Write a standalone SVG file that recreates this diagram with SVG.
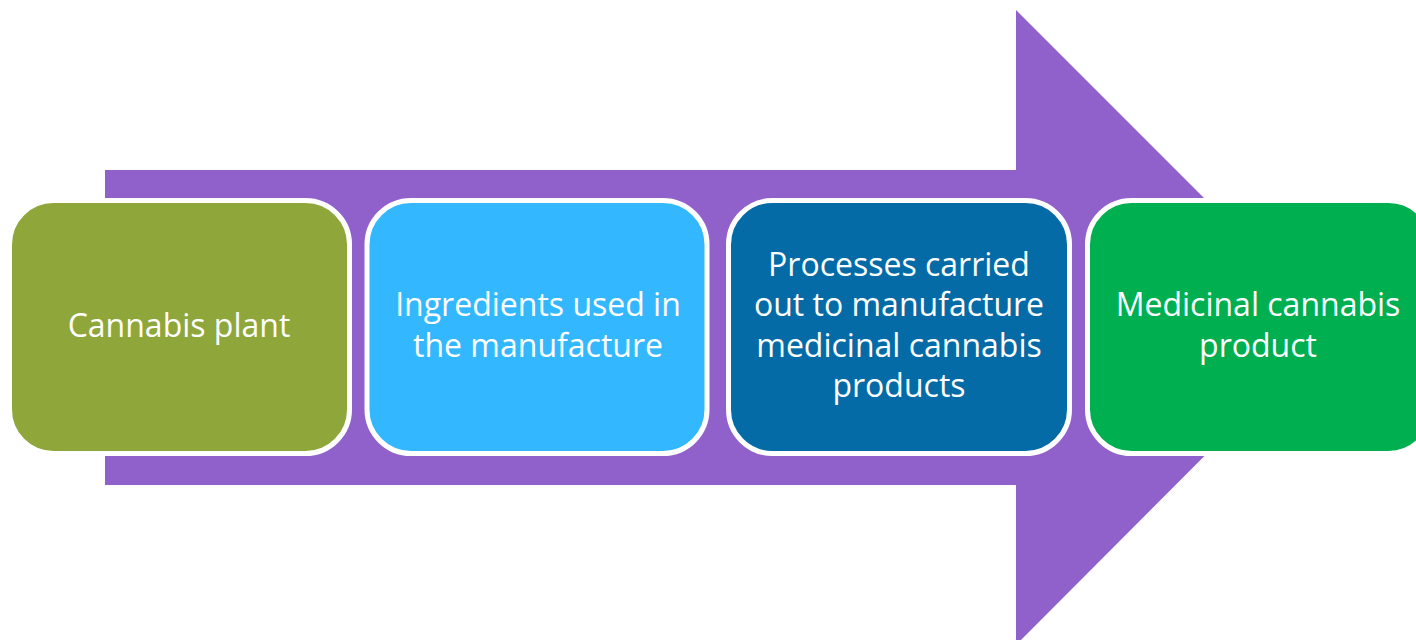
<svg xmlns="http://www.w3.org/2000/svg" width="1416" height="640" viewBox="0 0 1416 640">
<style>
.box{stroke:#fff;stroke-width:5}
.t{font-family:"Open Sans","Liberation Sans",sans-serif;font-size:32px;fill:#fff;text-anchor:middle}
</style>
<rect width="1416" height="640" fill="#fff"/>
<g id="connectors">
<polygon id="arrow" points="105,170 1016,170 1016,10 1333,327 1016,645 1016,485 105,485" fill="#9061CB"/>
</g>
<g id="n1">
<rect class="box" x="9.5" y="200.5" width="340" height="253" rx="44" fill="#8FA63B"/>
<text class="t" x="179" y="337">Cannabis plant</text>
</g>
<g id="n2">
<rect class="box" x="367" y="200.5" width="340" height="253" rx="44" fill="#33B8FF"/>
<text class="t" x="538" y="316">Ingredients used in</text>
<text class="t" x="538" y="357">the manufacture</text>
</g>
<g id="n3">
<rect class="box" x="728.5" y="200.5" width="341" height="253" rx="44" fill="#046BA7"/>
<text class="t" x="899" y="276">Processes carried</text>
<text class="t" x="899" y="316">out to manufacture</text>
<text class="t" x="899" y="357">medicinal cannabis</text>
<text class="t" x="899" y="397">products</text>
</g>
<g id="n4">
<rect class="box" x="1087.5" y="200.5" width="345" height="253" rx="44" fill="#00AF50"/>
<text class="t" x="1258" y="316">Medicinal cannabis</text>
<text class="t" x="1258" y="357">product</text>
</g>
</svg>
